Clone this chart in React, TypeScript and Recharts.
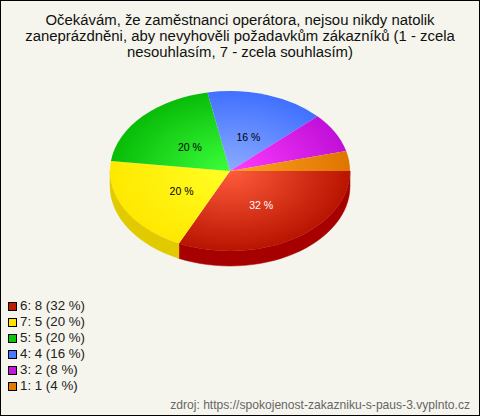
import { Pie, PieChart } from "recharts"

const categories = ["6", "7", "5", "4", "3", "1"]
const counts = [8, 5, 5, 4, 2, 1]
const percents = [32, 20, 20, 16, 8, 4]
const sliceLabels = ["32 %", "20 %", "20 %", "16 %", "", ""]
const labelColors = ["#ffffff", "#000000", "#000000", "#000000", "#000000", "#000000"]
const swatchColors = ["#c01c00", "#ffe400", "#0cc40c", "#4a78ff", "#c814dc", "#e47a00"]
const innerColors = ["#ff5c3c", "#ffff24", "#3cff3c", "#8cacff", "#ff3cff", "#ffa424"]
const outerColors = ["#b81400", "#ffe800", "#08bc08", "#4070ff", "#c010d8", "#e07400"]
const sideColors = ["#a60000", "#e2ca00", "#08a008", "#3058d0", "#a000b0", "#c06000"]

const titleLines = [
  "Očekávám, že zaměstnanci operátora, nejsou nikdy natolik",
  "zaneprázdněni, aby nevyhověli požadavkům zákazníků (1 - zcela",
  "nesouhlasím, 7 - zcela souhlasím)",
]
const source = "zdroj: https://spokojenost-zakazniku-s-paus-3.vyplnto.cz"

const FONT = "'Liberation Sans', Arial, sans-serif"
const SQUASH = 2 / 3
const DEPTH = 15

const data = categories.map((c, i) => ({
  name: `${c}: ${counts[i]} (${percents[i]} %)`,
  value: counts[i],
  fill: `url(#slice${i})`,
  side: sideColors[i],
  color: swatchColors[i],
  text: sliceLabels[i],
  textColor: labelColors[i],
}))

const rad = (deg: number) => (deg * Math.PI) / 180

function point(cx: number, cy: number, r: number, deg: number) {
  return [cx + r * Math.cos(rad(deg)), cy - r * SQUASH * Math.sin(rad(deg))]
}

// top face: the sector from recharts, flattened to an ellipse
function TopSlice(props: any) {
  const { cx, cy, outerRadius: r, startAngle, endAngle, fill } = props
  const [x0, y0] = point(cx, cy, r, startAngle)
  const [x1, y1] = point(cx, cy, r, endAngle)
  const large = Math.abs(endAngle - startAngle) > 180 ? 1 : 0
  const d = `M${cx},${cy}L${x0},${y0}A${r},${r * SQUASH} 0 ${large} 1 ${x1},${y1}Z`
  return <path d={d} fill={fill} stroke="none" />
}

// rim: only the part of a slice that faces the viewer (lower half)
function SideSlice(props: any) {
  const { cx, cy, outerRadius: r, startAngle, endAngle, side } = props
  const a = Math.min(startAngle, 0)
  const b = Math.max(endAngle, -180)
  if (a <= b) return <g />
  const [x0, y0] = point(cx, cy, r, a)
  const [x1, y1] = point(cx, cy, r, b)
  const ry = r * SQUASH
  const d = `M${x0},${y0}A${r},${ry} 0 0 1 ${x1},${y1}L${x1},${y1 + DEPTH}A${r},${ry} 0 0 0 ${x0},${y0 + DEPTH}Z`
  return <path d={d} fill={side} stroke={side} strokeWidth={0.5} />
}

function SliceLabel(props: any) {
  const { cx, cy, outerRadius: r, midAngle, payload } = props
  if (!payload.text) return null
  const [x, y] = point(cx, cy, r * 0.47, midAngle)
  return (
    <text x={x + 1} y={y + 6} textAnchor="middle" fontFamily={FONT} fontSize={10.5} fill={payload.textColor}>
      {payload.text}
    </text>
  )
}

export default function App() {
  return (
    <div style={{ position: "fixed", left: 0, top: 0, width: 478, height: 414, background: "#f5f5ed", border: "1px solid #000" }}>
      <PieChart width={478} height={414} margin={{ top: 0, right: 0, bottom: 0, left: 0 }}>
        <defs>
          {categories.map((c, i) => (
            <radialGradient
              key={c}
              id={`slice${i}`}
              gradientUnits="userSpaceOnUse"
              cx={229}
              cy={170}
              r={120}
              gradientTransform={`translate(0 ${170 * (1 - SQUASH)}) scale(1 ${SQUASH})`}
            >
              <stop offset="0%" stopColor={innerColors[i]} />
              <stop offset="100%" stopColor={outerColors[i]} />
            </radialGradient>
          ))}
        </defs>
        {titleLines.map((t, i) => (
          <text key={t} x={239} y={24 + i * 16} textAnchor="middle" fontFamily={FONT} fontSize={14.9} fill="#111">
            {t}
          </text>
        ))}
        <Pie
          data={data}
          dataKey="value"
          cx={229}
          cy={170}
          outerRadius={120}
          startAngle={0}
          endAngle={-360}
          stroke="none"
          shape={SideSlice}
          label={false}
          isAnimationActive={false}
        />
        <Pie
          data={data}
          dataKey="value"
          cx={229}
          cy={170}
          outerRadius={120}
          startAngle={0}
          endAngle={-360}
          stroke="none"
          shape={TopSlice}
          label={SliceLabel}
          labelLine={false}
          isAnimationActive={false}
        />
        <text x={469} y={408} textAnchor="end" fontFamily={FONT} fontSize={12.1} fill="#666">
          {source}
        </text>
      </PieChart>
      <div style={{ position: "absolute", left: 7, top: 297, width: 150, fontFamily: FONT, fontSize: 13.3, lineHeight: "16px", color: "#222" }}>
        {data.map((d) => (
          <div key={d.name} style={{ display: "flex", alignItems: "center", height: 16 }}>
            <span style={{ width: 7, height: 7, background: d.color, border: "1px solid #000", marginRight: 3 }} />
            {d.name}
          </div>
        ))}
      </div>
    </div>
  )
}
